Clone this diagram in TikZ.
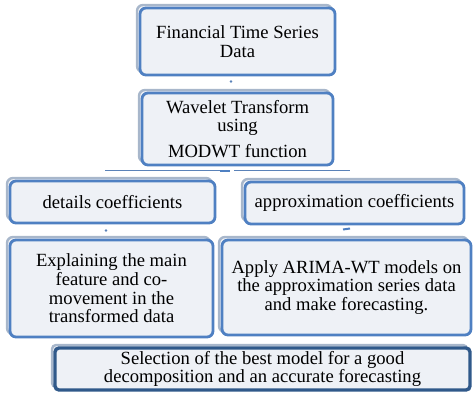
\documentclass[tikz,border=0pt]{standalone}
\usepackage{fontspec}
\setmainfont{Liberation Serif}
\usetikzlibrary{shadows}
\definecolor{boxfill}{HTML}{EEF1F6}
\definecolor{boxline}{HTML}{4F80C2}
\definecolor{boxdark}{HTML}{30598A}
\definecolor{shadowline}{HTML}{A8B7CB}
\definecolor{linkc}{HTML}{5A82B8}
\tikzset{
  stagebox/.style={draw=boxline, line width=2.8pt, fill=boxfill, rounded corners=6pt,
    align=center, inner sep=0pt, font=\fontsize{18.6}{18.6}\selectfont,
    general shadow={shadow xshift=-3pt, shadow yshift=3pt, draw=shadowline, line width=2.4pt, fill=boxfill}},
  finalbox/.style={stagebox, draw=boxdark, line width=3.4pt, rounded corners=4pt},
  link/.style={draw=linkc, line width=0.9pt},
  tick/.style={fill=linkc}
}
\begin{document}
\begin{tikzpicture}[x=1pt, y=-1pt]
\useasboundingbox (0,0) rectangle (474,394);

\node[stagebox, minimum width=195pt, minimum height=67pt] (data) at (237.5,41.5)
  {Financial Time Series\\Data};
\node[stagebox, minimum width=191pt, minimum height=72pt] (wt) at (237.5,129)
  {Wavelet Transform\\using\\[7pt]MODWT function};
\node[stagebox, minimum width=205pt, minimum height=42pt] (det) at (112.5,202)
  {details coefficients};
\node[stagebox, minimum width=219pt, minimum height=42pt] (app) at (354.5,203)
  {approximation coefficients};
\node[stagebox, minimum width=203pt, minimum height=97pt] (expl) at (111.5,288.5)
  {Explaining the main\\feature and co-\\movement in the\\transformed data};
\node[stagebox, minimum width=249pt, minimum height=95pt] (arima) at (346.5,287.5)
  {Apply ARIMA-WT models on\\the approximation series data\\and make forecasting.};
\node[finalbox, minimum width=415pt, minimum height=42pt] (best) at (262.5,369)
  {Selection of the best model for a good\\decomposition and an accurate forecasting};

% short link marks between the stages
\coordinate (k1) at (231,81.5);
\coordinate (k2) at (106,230.5);
\coordinate (k3a) at (343,229.5);
\coordinate (k3b) at (350,228.5);
\fill[tick] (k1) circle (1.3pt);
\fill[tick] (k2) circle (1.3pt);
\draw[draw=boxline, line width=2pt] (k3a) -- (k3b);

% branch line under the transform stage
\coordinate (bl) at (105,170);
\coordinate (bm1) at (228,170);
\coordinate (bm2) at (234,170);
\coordinate (br) at (350,170);
\coordinate (ba) at (220,170.5);
\coordinate (bb) at (230,170.5);
\draw[link] (bl) -- (bm1);
\draw[link] (bm2) -- (br);
\draw[draw=boxline, line width=2pt] (ba) -- (bb);
\end{tikzpicture}
\end{document}
